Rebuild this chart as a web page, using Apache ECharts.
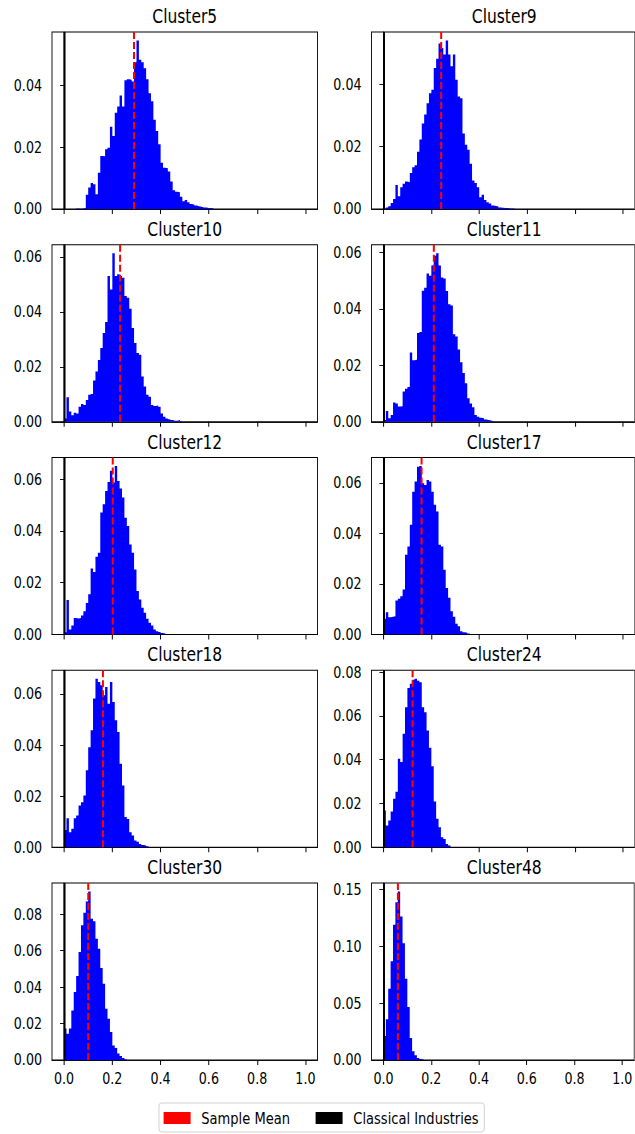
<!DOCTYPE html>
<html><head><meta charset="utf-8">
<script src="https://cdn.jsdelivr.net/npm/echarts@6/dist/echarts.min.js"></script>
<style>
html,body{margin:0;padding:0;background:#fff;overflow:hidden;width:635px;height:1134px}
#chart{width:777.25px;height:1134px;transform:scaleX(0.817);transform-origin:0 0}
</style>
</head><body><div id="chart"></div>
<script>
// ---------------- data ----------------
const clusterNames = ['Cluster5','Cluster9','Cluster10','Cluster11','Cluster12','Cluster17','Cluster18','Cluster24','Cluster30','Cluster48'];
const binWidth = 0.01;

const cluster5Start = 5;
const cluster5 = [0.0002,0.0001,0.0002,0.0003,0.0046,0.007,0.0084,0.008,0.0048,0.0118,0.0172,0.0171,0.0194,0.0199,0.0267,0.0237,0.0312,0.0333,0.0368,0.0333,0.0418,0.0421,0.0419,0.0414,0.0476,0.0547,0.0484,0.0476,0.0457,0.0421,0.0376,0.035,0.029,0.0253,0.021,0.015,0.0134,0.0132,0.0122,0.0089,0.0061,0.0056,0.0054,0.004,0.0025,0.0029,0.0022,0.0016,0.0014,0.0011,0.0009,0.0007,0.0005,0.0005,0.0003,0.0003,0.0002];

const cluster9Start = 0;
const cluster9 = [0.0002,0.0005,0.0009,0.0019,0.0032,0.0077,0.0041,0.007,0.0081,0.0088,0.0086,0.0115,0.0134,0.014,0.0183,0.0223,0.0274,0.0303,0.0339,0.0371,0.0382,0.0452,0.0481,0.053,0.0516,0.0495,0.054,0.0495,0.0457,0.0495,0.0414,0.036,0.0355,0.0242,0.0206,0.019,0.0145,0.0091,0.0083,0.007,0.0038,0.0046,0.0029,0.0022,0.0018,0.0011,0.001,0.0008,0.0005,0.0004,0.0003,0.0003,0.0002,0.0002,0.0001];

const cluster10Start = 0;
const cluster10 = [0.0012,0.0089,0.0037,0.0024,0.0033,0.003,0.0055,0.0065,0.0061,0.0079,0.0098,0.0101,0.015,0.0183,0.0225,0.0268,0.0323,0.0363,0.053,0.0481,0.0613,0.053,0.0536,0.053,0.0524,0.0457,0.0451,0.0411,0.0341,0.0286,0.025,0.0244,0.0165,0.0128,0.0098,0.0091,0.0061,0.0057,0.0059,0.0055,0.003,0.0018,0.0012,0.0009,0.0006,0.0004,0.0004,0.0006,0.0002];

const cluster11Start = 0;
const cluster11 = [0.0006,0.0038,0.0012,0.0024,0.0068,0.0065,0.0054,0.0055,0.0107,0.0117,0.0123,0.0246,0.0218,0.022,0.0315,0.0318,0.0465,0.0475,0.0526,0.0518,0.0554,0.0589,0.0598,0.0554,0.0512,0.0508,0.0464,0.0417,0.0412,0.031,0.0302,0.0256,0.0211,0.0173,0.0137,0.0083,0.0065,0.0051,0.0024,0.0018,0.0014,0.0012,0.0008,0.0006,0.0004,0.0002];

const cluster12Start = 0;
const cluster12 = [0.0009,0.0133,0.0019,0.0035,0.0064,0.0062,0.0064,0.0073,0.009,0.0122,0.0155,0.0255,0.0241,0.03,0.0316,0.0471,0.0503,0.0554,0.0589,0.0632,0.0587,0.0651,0.0593,0.0564,0.0529,0.0451,0.0419,0.0348,0.0316,0.0251,0.0168,0.0135,0.0103,0.0084,0.0061,0.0045,0.0035,0.0019,0.0013,0.001,0.0006,0.0004];

const cluster17Start = 0;
const cluster17 = [0.0062,0.0088,0.0068,0.007,0.0072,0.0135,0.0141,0.0151,0.0178,0.0316,0.0348,0.0434,0.0565,0.0605,0.0664,0.0667,0.0598,0.0592,0.0611,0.0605,0.0565,0.0513,0.0487,0.0355,0.0348,0.0256,0.0184,0.0145,0.0092,0.007,0.0043,0.0033,0.0013,0.0009,0.0007,0.0004];

const cluster18Start = 0;
const cluster18 = [0.0068,0.0114,0.0059,0.0072,0.0114,0.0124,0.0163,0.0176,0.0203,0.0301,0.0392,0.0458,0.0582,0.066,0.0647,0.0634,0.0595,0.0627,0.0562,0.0647,0.0569,0.0497,0.0451,0.0327,0.0242,0.0118,0.0111,0.0059,0.0046,0.0026,0.0022,0.0013,0.0009,0.0007,0.0004];

const cluster24Start = 0;
const cluster24 = [0.0168,0.0099,0.0122,0.0163,0.0221,0.0254,0.0404,0.0389,0.0518,0.064,0.0727,0.0747,0.0765,0.077,0.076,0.0754,0.064,0.0617,0.0533,0.0454,0.037,0.0209,0.013,0.0091,0.0046,0.0038,0.0015,0.0008];

const cluster30Start = 0;
const cluster30 = [0.0172,0.0144,0.0172,0.0272,0.0373,0.046,0.0592,0.0738,0.0807,0.0869,0.0924,0.0774,0.076,0.0665,0.061,0.0504,0.0418,0.0281,0.0226,0.0153,0.008,0.0066,0.0035,0.0022,0.0011,0.0004];

const cluster48Start = 0;
const cluster48 = [0.0211,0.0357,0.0626,0.0868,0.1187,0.1386,0.148,0.126,0.1026,0.0713,0.0465,0.0193,0.0076,0.0041,0.0018,0.0009,0.0003];

const sampleMeans = [0.288,0.245,0.227,0.215,0.200,0.164,0.158,0.124,0.102,0.062];
const classicalIndustries = 0.0;

const xTicks = [0.0,0.2,0.4,0.6,0.8,1.0];
const yTicks04 = [0.00,0.02,0.04];
const yTicks06 = [0.00,0.02,0.04,0.06];
const yTicks08 = [0.00,0.02,0.04,0.06,0.08];
const yTicks15 = [0.00,0.05,0.10,0.15];

const legendNames = ['Sample Mean','Classical Industries'];

// ---------------- build ----------------
const panels = [
  [cluster5Start, cluster5, yTicks04],
  [cluster9Start, cluster9, yTicks04],
  [cluster10Start, cluster10, yTicks06],
  [cluster11Start, cluster11, yTicks06],
  [cluster12Start, cluster12, yTicks06],
  [cluster17Start, cluster17, yTicks06],
  [cluster18Start, cluster18, yTicks06],
  [cluster24Start, cluster24, yTicks08],
  [cluster30Start, cluster30, yTicks08],
  [cluster48Start, cluster48, yTicks15]
];

// horizontal compression of the whole figure (the reference is squeezed sideways)
const SX = 0.817;
const hx = v => v / SX;          // real horizontal px -> virtual px

const FONT = 'DejaVu Sans';
const colLeft = [hx(52), hx(371.5)], colW = hx(265.5);
const rowTop = [32, 244.75, 457.5, 670.25, 883], rowH = 177;

const grid = [], xAxis = [], yAxis = [], series = [], graphic = [];

panels.forEach((p, i) => {
  const [start, vals, yTicks] = p;
  const r = Math.floor(i / 2), c = i % 2;
  const bottomRow = r === rowTop.length - 1;
  grid.push({left: colLeft[c], top: rowTop[r], width: colW, height: rowH,
    show: true, borderColor: '#000', borderWidth: 1.1, backgroundColor: '#fff'});
  xAxis.push({type: 'value', gridIndex: i, min: -0.05, max: 1.05,
    axisLine: {show: true, onZero: false, lineStyle: {color: '#000', width: 1}},
    axisTick: {show: true, length: 5, lineStyle: {color: '#000', width: 1.2}, customValues: xTicks},
    axisLabel: {show: bottomRow, customValues: xTicks, formatter: v => v.toFixed(1),
      fontSize: 15.5, fontFamily: FONT, color: '#000', margin: 11},
    splitLine: {show: false}});
  const ymax = Math.max(...vals) * 1.05;
  yAxis.push({type: 'value', gridIndex: i, min: 0, max: ymax,
    axisLine: {show: true, lineStyle: {color: '#000', width: 1.2}},
    axisTick: {show: true, length: 5, lineStyle: {color: '#000', width: 1}, customValues: yTicks},
    axisLabel: {customValues: yTicks, formatter: v => v.toFixed(2),
      fontSize: 15.5, fontFamily: FONT, color: '#000', margin: hx(10)},
    splitLine: {show: false}});
  const data = vals.map((v, j) => [+((start + j) * binWidth).toFixed(4), v]);
  data.push([+((start + vals.length) * binWidth).toFixed(4), 0]);
  series.push({type: 'line', xAxisIndex: i, yAxisIndex: i, data: data, step: 'end',
    symbol: 'none', showSymbol: false, silent: true,
    lineStyle: {width: 0, color: '#0000ff'}, itemStyle: {color: '#0000ff'},
    areaStyle: {color: '#0000ff', opacity: 1},
    markLine: {silent: true, symbol: ['none', 'none'], label: {show: false}, animation: false,
      data: [
        {xAxis: classicalIndustries, lineStyle: {color: '#000', width: hx(2), type: 'solid'}},
        {xAxis: sampleMeans[i], lineStyle: {color: '#ff0000', width: hx(2), type: [7, 3]}}
      ]}});
  graphic.push({type: 'text', x: colLeft[c] + colW / 2, y: rowTop[r] - 15.5,
    style: {text: clusterNames[i], fill: '#000', fontSize: 19, fontFamily: FONT,
      align: 'center', verticalAlign: 'middle'}});
});

series.push({type: 'scatter', name: legendNames[0], xAxisIndex: 0, yAxisIndex: 0, data: [], itemStyle: {color: '#ff0000', opacity: 1}});
series.push({type: 'scatter', name: legendNames[1], xAxisIndex: 0, yAxisIndex: 0, data: [], itemStyle: {color: '#000000', opacity: 1}});

const chart = echarts.init(document.getElementById('chart'), null, {renderer: 'svg'});
chart.setOption({
  animation: false,
  backgroundColor: '#fff',
  textStyle: {fontFamily: FONT},
  grid, xAxis, yAxis, series, graphic,
  legend: {data: legendNames, left: hx(159), top: 1103, icon: 'rect', itemWidth: hx(27), itemHeight: 12,
    itemGap: hx(25.5), padding: [7, hx(5.5), 6, hx(4.6)], borderColor: '#ccc', borderWidth: 1, borderRadius: 3,
    backgroundColor: '#fff', selectedMode: false, inactiveColor: '#000',
    textStyle: {fontSize: 16, fontFamily: FONT, color: '#000', padding: [0, 0, 0, hx(10.7) - 5]}}
});
</script></body></html>
